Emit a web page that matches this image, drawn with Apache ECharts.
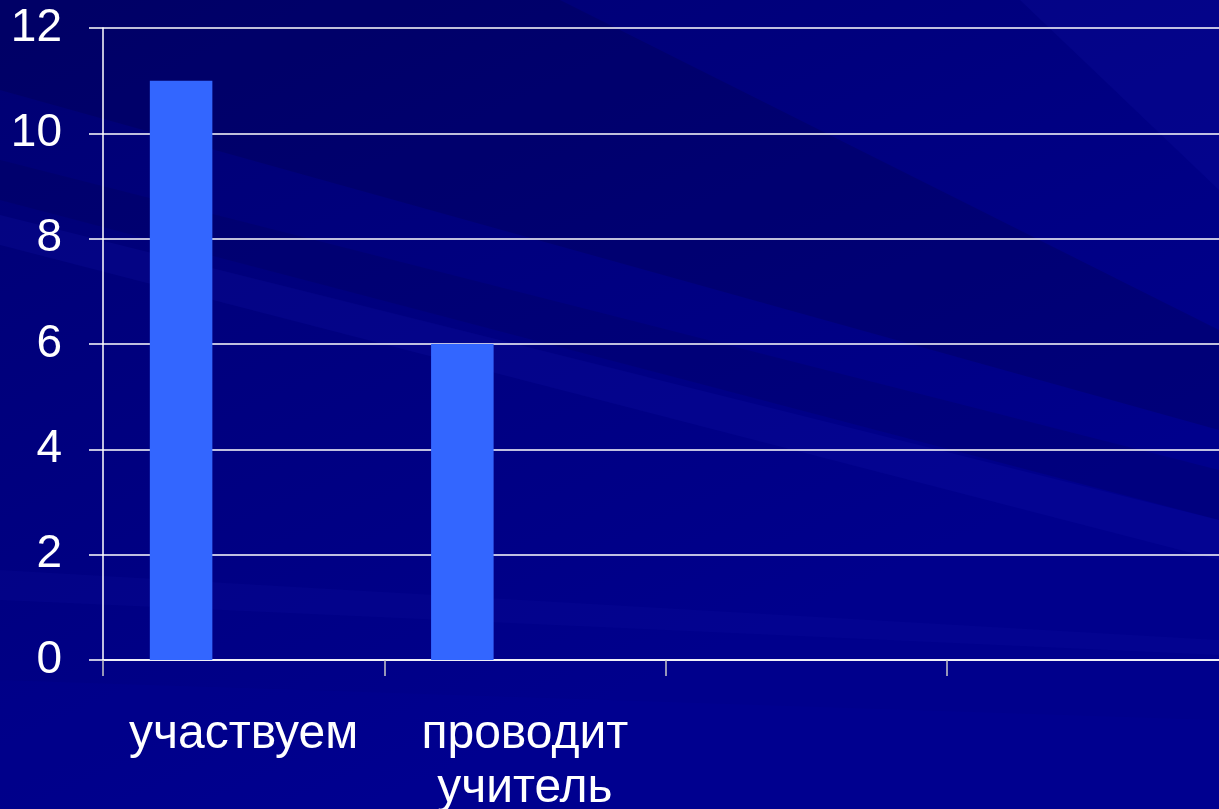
<!DOCTYPE html>
<html>
<head>
<meta charset="utf-8">
<script src="https://cdn.jsdelivr.net/npm/echarts@6/dist/echarts.min.js"></script>
<style>
html,body{margin:0;padding:0;width:100%;height:100%;background:#000080;}
#chart{width:1219px;height:809px;}
</style>
</head>
<body>
<div id="chart"></div>
<script>
const categories = ['участвуем', 'проводит\nучитель', '', ''];
const series1 = [11, 6, null, null];
const series2 = [null, null, null, null];
const series3 = [null, null, null, null];
const yTicks = { min: 0, max: 12, interval: 2 };

const chart = echarts.init(document.getElementById('chart'));
const bgStreak = (pts, fill) => ({ type: 'polygon', z: -10, silent: true, shape: { points: pts }, style: { fill } });

chart.setOption({
  backgroundColor: {
    type: 'linear', x: 0, y: 0, x2: 0.3, y2: 1,
    colorStops: [{ offset: 0, color: '#000072' }, { offset: 1, color: '#00008c' }]
  },
  graphic: [
    bgStreak([[0, 0], [560, 0], [1219, 330], [1219, 430], [0, 90]], 'rgba(0,0,60,0.22)'),
    bgStreak([[0, 160], [1219, 470], [1219, 520], [0, 200]], 'rgba(0,0,60,0.16)'),
    bgStreak([[0, 215], [1219, 520], [1219, 560], [0, 245]], 'rgba(20,20,180,0.18)'),
    bgStreak([[0, 570], [1219, 640], [1219, 655], [0, 600]], 'rgba(20,20,170,0.15)'),
    bgStreak([[0, 680], [1219, 720], [1219, 809], [0, 809]], 'rgba(0,0,160,0.15)'),
    bgStreak([[1020, 0], [1219, 0], [1219, 190]], 'rgba(20,20,170,0.2)')
  ],
  grid: { left: 103, width: 1125, top: 28, bottom: 149, containLabel: false, outerBoundsMode: 'none' },
  xAxis: {
    type: 'category',
    data: categories,
    axisLine: { show: true, lineStyle: { color: '#ffffff', width: 1.5 } },
    axisTick: { show: true, alignWithLabel: false, length: 16, lineStyle: { color: '#c8c8c8', width: 1.5 } },
    axisLabel: { color: '#ffffff', fontSize: 48, fontFamily: 'Liberation Sans, Arial, sans-serif', margin: 48, lineHeight: 54, interval: 0 },
    splitLine: { show: false }
  },
  yAxis: {
    type: 'value',
    min: yTicks.min, max: yTicks.max, interval: yTicks.interval,
    axisLine: { show: true, lineStyle: { color: '#ffffff', width: 1.5 } },
    axisTick: { show: true, length: 14, lineStyle: { color: '#ffffff', width: 1.5 } },
    axisLabel: { color: '#ffffff', fontSize: 46, fontFamily: 'Liberation Sans, Arial, sans-serif', margin: 41, padding: [4, 0, 0, 0] },
    splitLine: { show: true, lineStyle: { color: '#ffffff', width: 1.5 } }
  },
  series: [
    { type: 'bar', data: series1, barGap: '0%', barCategoryGap: '33.3%', itemStyle: { color: '#3366ff' } },
    { type: 'bar', data: series2, barGap: '0%', barCategoryGap: '33.3%', itemStyle: { color: '#993366' } },
    { type: 'bar', data: series3, barGap: '0%', barCategoryGap: '33.3%', itemStyle: { color: '#ffffcc' } }
  ],
  animation: false
});
</script>
</body>
</html>
